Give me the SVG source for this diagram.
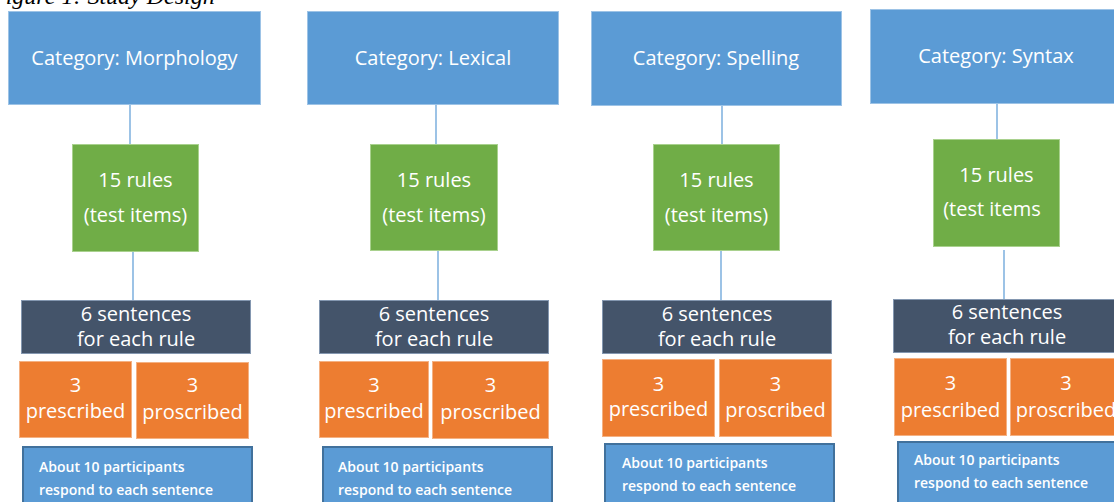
<svg xmlns="http://www.w3.org/2000/svg" width="1114" height="502" viewBox="0 0 1114 502">
<style>
.cat{fill:#5B9BD5;stroke:#9DC3E6;stroke-width:1}
.grn{fill:#70AD47;stroke:#A9D18E;stroke-width:1}
.drk{fill:#44546A;stroke:#8497B0;stroke-width:1}
.org{fill:#ED7D31;stroke:#F4B183;stroke-width:1}
.blu{fill:#5B9BD5;stroke:#41719C;stroke-width:2}
.t{font-family:"Open Sans","Liberation Sans",sans-serif;fill:#ffffff;font-size:20px;font-weight:500;text-anchor:middle}
.s{font-family:"Open Sans","Liberation Sans",sans-serif;fill:#ffffff;font-size:14px;font-weight:600}
.cap{font-family:"Liberation Serif",serif;font-style:italic;font-size:24px;fill:#000}
.ln{stroke:#5B9BD5;stroke-width:1.2;fill:none}
</style>
<rect width="1114" height="502" fill="#ffffff"/>
<text class="cap" x="-9" y="4">Figure 1: Study Design</text>
<g id="connectors">
<line class="ln" x1="130" y1="105" x2="130" y2="144"/>
<line class="ln" x1="133" y1="252" x2="133" y2="300"/>
<line class="ln" x1="436" y1="105" x2="436" y2="144"/>
<line class="ln" x1="438" y1="251" x2="438" y2="300"/>
<line class="ln" x1="722" y1="106" x2="722" y2="144"/>
<line class="ln" x1="721" y1="251" x2="721" y2="300"/>
<line class="ln" x1="997" y1="104" x2="997" y2="139"/>
<line class="ln" x1="1004" y1="250" x2="1004" y2="299"/>
</g>
<!-- Column 1 -->
<g id="cat-morphology"><rect class="cat" x="8.5" y="11.5" width="252" height="93"/><text class="t" x="134.5" y="65">Category: Morphology</text></g>
<g id="rules-1"><rect class="grn" x="72.5" y="144.5" width="126" height="107"/><text class="t" x="135.5" y="187">15 rules</text><text class="t" x="135.5" y="222">(test items)</text></g>
<g id="sent-1"><rect class="drk" x="21.5" y="300.5" width="229" height="53"/><text class="t" x="136" y="321">6 sentences</text><text class="t" x="136" y="346">for each rule</text></g>
<g id="pre-1"><rect class="org" x="19.5" y="361.5" width="112" height="76"/><text class="t" x="75.5" y="392">3</text><text class="t" x="75.5" y="418">prescribed</text></g>
<g id="pro-1"><rect class="org" x="136.5" y="362.5" width="112" height="76"/><text class="t" x="192.5" y="392">3</text><text class="t" x="192.5" y="419">proscribed</text></g>
<g id="part-1"><rect class="blu" x="23" y="447" width="229" height="60"/><text class="s" x="39" y="472">About 10 participants</text><text class="s" x="39" y="495">respond to each sentence</text></g>
<!-- Column 2 -->
<g id="cat-lexical"><rect class="cat" x="307.5" y="11.5" width="251" height="93"/><text class="t" x="433" y="65">Category: Lexical</text></g>
<g id="rules-2"><rect class="grn" x="370.5" y="144.5" width="127" height="106"/><text class="t" x="434" y="187">15 rules</text><text class="t" x="434" y="222">(test items)</text></g>
<g id="sent-2"><rect class="drk" x="319.5" y="300.5" width="229" height="53"/><text class="t" x="434" y="321">6 sentences</text><text class="t" x="434" y="346">for each rule</text></g>
<g id="pre-2"><rect class="org" x="319.5" y="361.5" width="109" height="76"/><text class="t" x="374" y="392">3</text><text class="t" x="374" y="418">prescribed</text></g>
<g id="pro-2"><rect class="org" x="432.5" y="361.5" width="116" height="77"/><text class="t" x="490.5" y="392">3</text><text class="t" x="490.5" y="419">proscribed</text></g>
<g id="part-2"><rect class="blu" x="323" y="447" width="229" height="60"/><text class="s" x="338" y="472">About 10 participants</text><text class="s" x="338" y="495">respond to each sentence</text></g>
<!-- Column 3 -->
<g id="cat-spelling"><rect class="cat" x="591.5" y="11.5" width="250" height="94"/><text class="t" x="716" y="65">Category: Spelling</text></g>
<g id="rules-3"><rect class="grn" x="653.5" y="144.5" width="126" height="106"/><text class="t" x="716.5" y="187">15 rules</text><text class="t" x="716.5" y="222">(test items)</text></g>
<g id="sent-3"><rect class="drk" x="602.5" y="300.5" width="229" height="53"/><text class="t" x="717" y="321">6 sentences</text><text class="t" x="717" y="346">for each rule</text></g>
<g id="pre-3"><rect class="org" x="602.5" y="359.5" width="112" height="77"/><text class="t" x="658.5" y="391">3</text><text class="t" x="658.5" y="416">prescribed</text></g>
<g id="pro-3"><rect class="org" x="719.5" y="359.5" width="112" height="77"/><text class="t" x="775.5" y="391">3</text><text class="t" x="775.5" y="417">proscribed</text></g>
<g id="part-3"><rect class="blu" x="605" y="444" width="229" height="62"/><text class="s" x="622" y="468">About 10 participants</text><text class="s" x="622" y="491">respond to each sentence</text></g>
<!-- Column 4 -->
<g id="cat-syntax"><rect class="cat" x="870.5" y="9.5" width="252" height="94"/><text class="t" x="996" y="63">Category: Syntax</text></g>
<g id="rules-4"><rect class="grn" x="933.5" y="139.5" width="126" height="107"/><text class="t" x="996.5" y="182">15 rules</text><text class="t" x="992" y="216">(test items</text></g>
<g id="sent-4"><rect class="drk" x="893.5" y="299.5" width="230" height="53"/><text class="t" x="1007" y="319">6 sentences</text><text class="t" x="1007" y="344">for each rule</text></g>
<g id="pre-4"><rect class="org" x="894.5" y="358.5" width="112" height="77"/><text class="t" x="950.5" y="390">3</text><text class="t" x="950.5" y="417">prescribed</text></g>
<g id="pro-4"><rect class="org" x="1010.5" y="358.5" width="113" height="77"/><text class="t" x="1066" y="390">3</text><text class="t" x="1066" y="417">proscribed</text></g>
<g id="part-4"><rect class="blu" x="898" y="442" width="229" height="64"/><text class="s" x="914" y="465">About 10 participants</text><text class="s" x="914" y="488">respond to each sentence</text></g>
</svg>
